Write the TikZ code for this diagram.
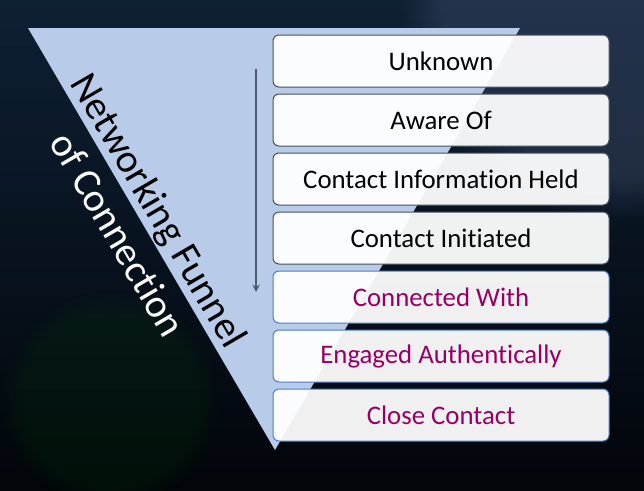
\documentclass[tikz,border=0pt]{standalone}
\usepackage{fontspec}
\setmainfont{Carlito}[Ligatures=NoCommon]
\usetikzlibrary{fadings}

\definecolor{funnelblue}{RGB}{184,204,233}
\definecolor{stagepurple}{RGB}{150,0,100}
\definecolor{bgtop}{RGB}{14,32,52}
\definecolor{bgbottom}{RGB}{2,5,10}
\definecolor{boxedge}{RGB}{72,80,92}
\definecolor{boxblue}{RGB}{78,122,200}
\definecolor{arrowgray}{RGB}{78,90,110}

\begin{document}
\begin{tikzpicture}[x=1pt, y=-1pt, >=stealth,
    stage/.style={draw=boxedge, line width=1pt, fill=white, fill opacity=0.94,
      text opacity=1, rounded corners=6pt, minimum width=336pt,
      minimum height=52pt, inner sep=0pt, font=\fontsize{26.8}{30}\selectfont},
    late/.style={draw=boxblue, text=stagepurple}]
    % Background
    \useasboundingbox (0,0) rectangle (644,490);
    \clip (0,0) rectangle (644,490);
    \shade[top color=bgtop, bottom color=bgbottom] (0,0) rectangle (644,490);
    \fill[cyan!40!blue!50!black, opacity=0.35, path fading=circle with fuzzy edge 20 percent]
        (620,0) circle (220);
    \fill[green!30!black, opacity=0.15, path fading=circle with fuzzy edge 20 percent]
        (110,400) circle (110);

    % Funnel
    \coordinate (ftl) at (28,28);
    \coordinate (ftr) at (520,28);
    \coordinate (fbot) at (275,450);
    \fill[funnelblue] (ftl) -- (ftr) -- (fbot) -- cycle;

    % Title along the funnel edge
    \node[rotate=-59.7, align=center, font=\fontsize{40}{48}\selectfont] (title)
        at (139,222) {Networking Funnel\\\textcolor{white}{of Connection}};

    % Direction arrow
    \coordinate (atop) at (256,69);
    \coordinate (abot) at (256,292);
    \draw[->, arrowgray, line width=2.2pt] (atop) -- (abot);

    % Stages
    \foreach \txt [count=\i] in {Unknown, Aware Of, Contact Information Held,
        Contact Initiated} {
        \node[stage] (s\i) at (441, 2+59*\i) {\txt};
    }
    \foreach \txt [count=\i from 5] in {Connected With, Engaged Authentically,
        Close Contact} {
        \node[stage, late] (s\i) at (441, 2+59*\i) {\txt};
    }
\end{tikzpicture}
\end{document}
